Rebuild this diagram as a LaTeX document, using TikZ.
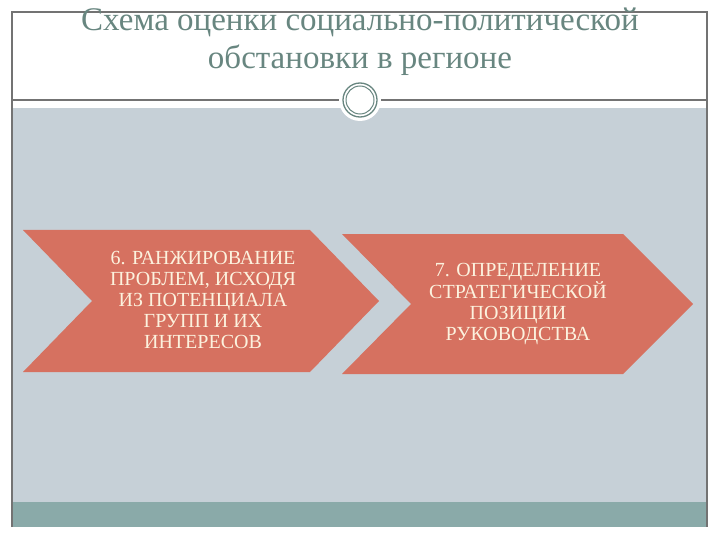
\documentclass[tikz,border=0pt]{standalone}
\usepackage{fontspec}
\setmainfont{Liberation Serif}
\definecolor{slidegray}{RGB}{198,208,215}
\definecolor{bandteal}{RGB}{138,170,169}
\definecolor{titleteal}{RGB}{104,134,128}
\definecolor{chevron}{RGB}{214,113,96}
\definecolor{cream}{RGB}{252,242,222}
\tikzset{
  frameline/.style={gray!90!black, line width=1.1pt},
  chevbox/.style={fill=chevron},
  chevtext/.style={text=cream, align=center, font=\fontsize{20}{21.2}\selectfont},
  headtext/.style={text=titleteal, anchor=base, font=\fontsize{33}{38}\selectfont},
}
\begin{document}
\begin{tikzpicture}[x=1pt,y=-1pt]
  \useasboundingbox (0,0) rectangle (720,540);
  \fill[slidegray] (12,108) rectangle (707,502);
  \fill[bandteal] (12,502) rectangle (707,527);
  \draw[frameline] (12,527) -- (12,12) -- (707,12) -- (707,527);
  \draw[frameline] (12,100) -- (707,100);
  \node[headtext] (head1) at (360,31) {Схема оценки социально-политической};
  \node[headtext] (head2) at (360,69) {обстановки в регионе};
  % medallion
  \fill[white] (360,100) circle (21);
  \draw[titleteal, line width=1.3pt] (360,100) circle (17);
  \draw[titleteal, line width=1pt] (360,100) circle (14);
  % chevrons
  \fill[chevbox] (23,230) -- (310,230) -- (379,301) -- (310,372) -- (23,372) -- (92,301) -- cycle;
  \fill[chevbox] (342,234) -- (623,234) -- (693,304) -- (623,374) -- (342,374) -- (411,304) -- cycle;
  \node[chevtext] (step6) at (203,300) {6. РАНЖИРОВАНИЕ\\ПРОБЛЕМ, ИСХОДЯ\\ИЗ ПОТЕНЦИАЛА\\ГРУПП И ИХ\\ИНТЕРЕСОВ};
  \node[chevtext] (step7) at (518,304) {7. ОПРЕДЕЛЕНИЕ\\СТРАТЕГИЧЕСКОЙ\\ПОЗИЦИИ\\РУКОВОДСТВА};
\end{tikzpicture}
\end{document}
